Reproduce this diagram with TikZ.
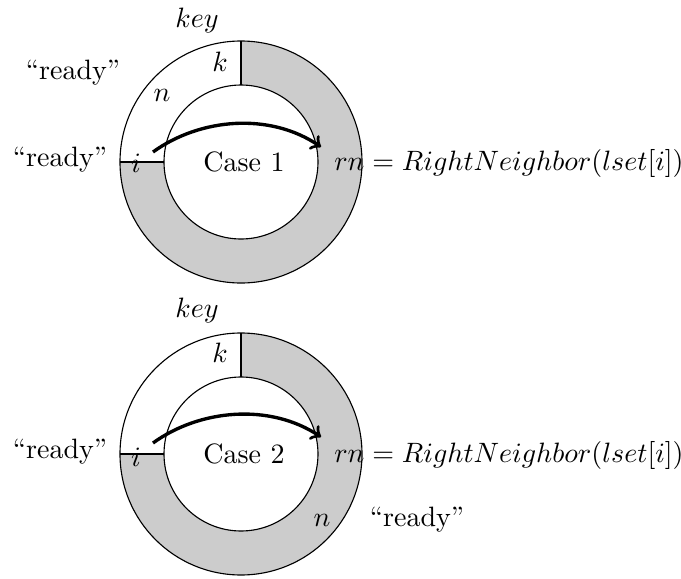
\documentclass[tikz,border=0pt]{standalone}
\usepackage{tikz}
\usetikzlibrary{positioning,calc}

\tikzset{
  ring/.style={draw, thin},
  shade/.style={fill=black!20},
  jump/.style={very thick, ->},
  lbl/.style={inner sep=1pt}
}

\begin{document}
\begin{tikzpicture}[x=0.357pt, y=-0.357pt]
\useasboundingbox (0,0) rectangle (681,579);

% Case 1 (y runs downwards, so angles are mirrored)
\coordinate (c1) at (241,162);
\fill [shade] ($(c1)+(-121,0)$) arc [start angle=180, end angle=-90, radius=121]
  -- ($(c1)+(0,-77)$) arc [start angle=-90, end angle=180, radius=77] -- cycle;
\draw [ring] (c1) circle [radius=121];
\draw [ring] (c1) circle [radius=77];
\draw [ring] ($(c1)+(0,-121)$) -- ($(c1)+(0,-77)$);
\draw [ring] ($(c1)+(-121,0)$) -- ($(c1)+(-77,0)$);

\node [lbl] (key1) at (197,20) {$key$};
\node [lbl] (k1) at (220,62) {$k$};
\node [lbl] (n1) at (162,95) {$n$};
\node [lbl] (i1) at (136,163) {$i$};
\node [lbl] (case1) at (244,162) {Case 1};
\node [lbl, anchor=west] (rn1) at (331,163) {$rn = RightNeighbor(lset[i])$};
\node [lbl] (rdyA) at (73,73) {``ready''};
\node [lbl] (rdyB) at (60,160) {``ready''};
\coordinate (from1) at (153,152);
\coordinate (to1) at (321,147);
\draw [jump] (from1) .. controls (200,118) and (270,112) .. (to1);

% Case 2
\coordinate (c2) at (241,454);
\fill [shade] ($(c2)+(-121,0)$) arc [start angle=180, end angle=-90, radius=121]
  -- ($(c2)+(0,-77)$) arc [start angle=-90, end angle=180, radius=77] -- cycle;
\draw [ring] (c2) circle [radius=121];
\draw [ring] (c2) circle [radius=77];
\draw [ring] ($(c2)+(0,-121)$) -- ($(c2)+(0,-77)$);
\draw [ring] ($(c2)+(-121,0)$) -- ($(c2)+(-77,0)$);

\node [lbl] (key2) at (197,310) {$key$};
\node [lbl] (k2) at (220,353) {$k$};
\node [lbl] (i2) at (136,457) {$i$};
\node [lbl] (n2) at (322,520) {$n$};
\node [lbl] (case2) at (244,454) {Case 2};
\node [lbl, anchor=west] (rn2) at (331,455) {$rn = RightNeighbor(lset[i])$};
\node [lbl] (rdyC) at (60,452) {``ready''};
\node [lbl] (rdyD) at (417,520) {``ready''};
\coordinate (from2) at (153,443);
\coordinate (to2) at (321,437);
\draw [jump] (from2) .. controls (200,409) and (270,403) .. (to2);
\end{tikzpicture}
\end{document}
